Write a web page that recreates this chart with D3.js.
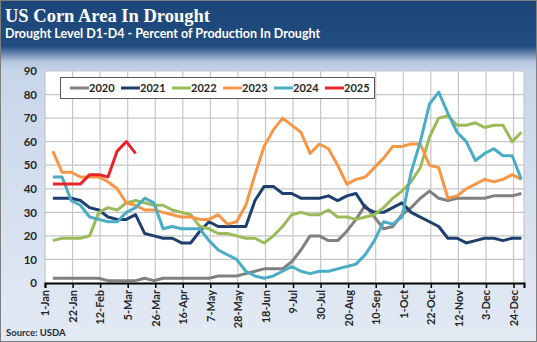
<!DOCTYPE html>
<html>
<head>
<meta charset="utf-8">
<script src="https://cdn.jsdelivr.net/npm/d3@7"></script>
<style>
  body { margin: 0; padding: 0; background: #fff; }
  svg { display: block; }
</style>
</head>
<body>
<div id="chart"></div>
<script>
// weekly drought readings, percent of corn production in D1-D4
var years = ["2020", "2021", "2022", "2023", "2024", "2025"];
var colors = ["#808080", "#1F3F6E", "#9BBB59", "#F79646", "#4BACC6", "#E8232A"];

var y2020 = [2,2,2,2,2,2,1,1,1,1,2,1,2,2,2,2,2,2,3,3,3,4,5,6,6,6,9,14,20,20,18,18,22,27,33,28,23,24,29,32,36,39,36,35,36,36,36,36,37,37,37,38];
var y2021 = [36,36,36,35,32,31,28,27,27,29,21,20,19,19,17,17,22,26,24,24,24,24,35,41,41,38,38,36,36,36,37,35,37,38,32,30,30,32,34,30,28,26,24,19,19,17,18,19,19,18,19,19];
var y2022 = [18,19,19,19,20,30,32,31,34,35,34,33,33,31,30,29,24,23,21,21,20,19,19,17,20,24,29,30,29,29,31,28,28,27,28,29,32,36,39,43,49,62,70,71,67,67,68,66,67,67,60,64];
var y2023 = [56,47,47,45,45,45,43,40,34,33,31,31,30,29,28,28,27,27,29,25,26,33,46,58,65,70,67,64,55,59,57,50,42,44,45,49,53,58,58,59,59,50,49,36,37,40,42,44,43,44,46,44];
var y2024 = [45,45,35,33,28,27,26,26,30,32,36,34,23,24,23,23,23,18,14,12,10,5,3,2,3,5,7,5,4,5,5,6,7,8,12,18,26,25,28,47,60,76,81,72,64,60,52,55,57,54,54,44];
var y2025 = [42,42,42,42,46,46,45,56,60,55];

var tickLabels = ["1-Jan","22-Jan","12-Feb","5-Mar","26-Mar","16-Apr","7-May","28-May","18-Jun",
  "9-Jul","30-Jul","20-Aug","10-Sep","1-Oct","22-Oct","12-Nov","3-Dec","24-Dec"];
var yTicks = [0,10,20,30,40,50,60,70,80,90];

var series = [y2020, y2021, y2022, y2023, y2024, y2025];

var width = 537, height = 342;
var plot = {left: 45, right: 524, top: 71, bottom: 283};

var svg = d3.select("#chart").append("svg")
  .attr("width", width)
  .attr("height", height);

// background gradient (dark header fading into pale blue)
var defs = svg.append("defs");
var grad = defs.append("linearGradient")
  .attr("id", "bg").attr("x1", 0).attr("y1", 0).attr("x2", 0).attr("y2", 1);
grad.append("stop").attr("offset", "0").attr("stop-color", "#1c4679");
grad.append("stop").attr("offset", "0.135").attr("stop-color", "#214c80");
grad.append("stop").attr("offset", "0.18").attr("stop-color", "#b3c6e0");
grad.append("stop").attr("offset", "0.21").attr("stop-color", "#c8d6ea");
grad.append("stop").attr("offset", "1").attr("stop-color", "#e3eaf4");

svg.append("rect")
  .attr("x", 0).attr("y", 0)
  .attr("width", width).attr("height", height)
  .attr("fill", "url(#bg)");

svg.append("text")
  .attr("x", 5).attr("y", 22)
  .style("font-family", "'Liberation Serif', serif")
  .style("font-weight", "bold")
  .style("font-size", "18.5px")
  .attr("fill", "#fff")
  .text("US Corn Area In Drought");

svg.append("text")
  .attr("x", 5).attr("y", 38)
  .style("font-family", "Lato, sans-serif")
  .style("font-weight", "bold")
  .style("font-size", "12.5px")
  .attr("fill", "#fff")
  .text("Drought Level D1-D4 - Percent of Production In Drought");

// scales
var parse = d3.timeParse("%d-%b-%Y");
var start = parse("1-Jan-2023");
var end = parse("1-Jan-2024");
var tickDates = tickLabels.map(function (t) { return parse(t + "-2023"); });
var weeks = d3.range(52).map(function (i) { return d3.timeDay.offset(start, 6 + 7 * i); });

var x = d3.scaleTime().domain([start, end]).range([plot.left, plot.right]);
var y = d3.scaleLinear().domain([0, 90]).range([plot.bottom, plot.top]);

svg.append("rect")
  .attr("x", plot.left).attr("y", plot.top)
  .attr("width", plot.right - plot.left)
  .attr("height", plot.bottom - plot.top)
  .attr("fill", "#fff");

// gridlines
svg.append("g")
  .selectAll("line")
  .data(yTicks.slice(1))
  .enter().append("line")
    .attr("x1", plot.left).attr("x2", plot.right)
    .attr("y1", function (d) { return y(d); })
    .attr("y2", function (d) { return y(d); })
    .attr("stroke", "#c6c6c6").attr("stroke-width", 1.2);

svg.append("g")
  .selectAll("line")
  .data(tickDates.concat([end]))
  .enter().append("line")
    .attr("x1", function (d) { return x(d); })
    .attr("x2", function (d) { return x(d); })
    .attr("y1", plot.top).attr("y2", plot.bottom)
    .attr("stroke", "#c6c6c6").attr("stroke-width", 1.2);

// y axis labels only
var yAxis = svg.append("g")
  .attr("transform", "translate(" + (plot.left - 8) + ",0)")
  .call(d3.axisLeft(y).tickValues(yTicks).tickSize(0).tickPadding(0));
yAxis.select(".domain").remove();
yAxis.selectAll("text")
  .style("font-family", "Lato, sans-serif")
  .style("font-weight", "bold")
  .style("font-size", "11.5px")
  .attr("fill", "#262626");

// lines
var line = d3.line()
  .x(function (d, i) { return x(weeks[i]); })
  .y(function (d) { return y(d); });

svg.append("g")
  .selectAll("path")
  .data(series)
  .enter().append("path")
    .attr("d", line)
    .attr("fill", "none")
    .attr("stroke", function (d, i) { return colors[i]; })
    .attr("stroke-width", 3)
    .attr("stroke-linejoin", "round");

// x axis
var xAxis = svg.append("g")
  .attr("transform", "translate(0," + plot.bottom + ")")
  .call(d3.axisBottom(x).tickValues(tickDates).tickSizeOuter(0).tickSize(5)
    .tickFormat(function (d, i) { return tickLabels[i]; }));
xAxis.select(".domain").attr("stroke", "#000").attr("stroke-width", 2);
xAxis.selectAll(".tick line").attr("stroke", "#000").attr("stroke-width", 1.5);
xAxis.selectAll("text")
  .attr("transform", "rotate(-90)")
  .attr("x", -7).attr("y", 0).attr("dy", "0.35em")
  .style("text-anchor", "end")
  .style("font-family", "Lato, sans-serif")
  .style("font-weight", "bold")
  .style("font-size", "11px")
  .attr("fill", "#262626");

// legend
var legend = svg.append("g");
legend.append("rect")
  .attr("x", 60.5).attr("y", 77.5)
  .attr("width", 314).attr("height", 21)
  .attr("fill", "#fff").attr("stroke", "#595959").attr("stroke-width", 1);

var item = legend.selectAll(".item")
  .data(years)
  .enter().append("g")
    .attr("class", "item")
    .attr("transform", function (d, i) { return "translate(" + (70 + i * 51) + ",88)"; });
item.append("line")
  .attr("x1", 0).attr("x2", 19)
  .attr("stroke", function (d, i) { return colors[i]; })
  .attr("stroke-width", 3);
item.append("text")
  .attr("x", 19).attr("dy", "0.36em")
  .style("font-family", "Lato, sans-serif")
  .style("font-weight", "bold")
  .style("font-size", "11px")
  .attr("fill", "#262626")
  .text(function (d) { return d; });

svg.append("text")
  .attr("x", 6).attr("y", 336)
  .style("font-family", "Lato, sans-serif")
  .style("font-weight", "bold")
  .style("font-size", "9.5px")
  .attr("fill", "#1f2a3a")
  .text("Source: USDA");

// outer border
svg.append("rect")
  .attr("x", 0.5).attr("y", 0.5)
  .attr("width", width - 1).attr("height", height - 1)
  .attr("fill", "none").attr("stroke", "#7f7f7f");
</script>
</body>
</html>
